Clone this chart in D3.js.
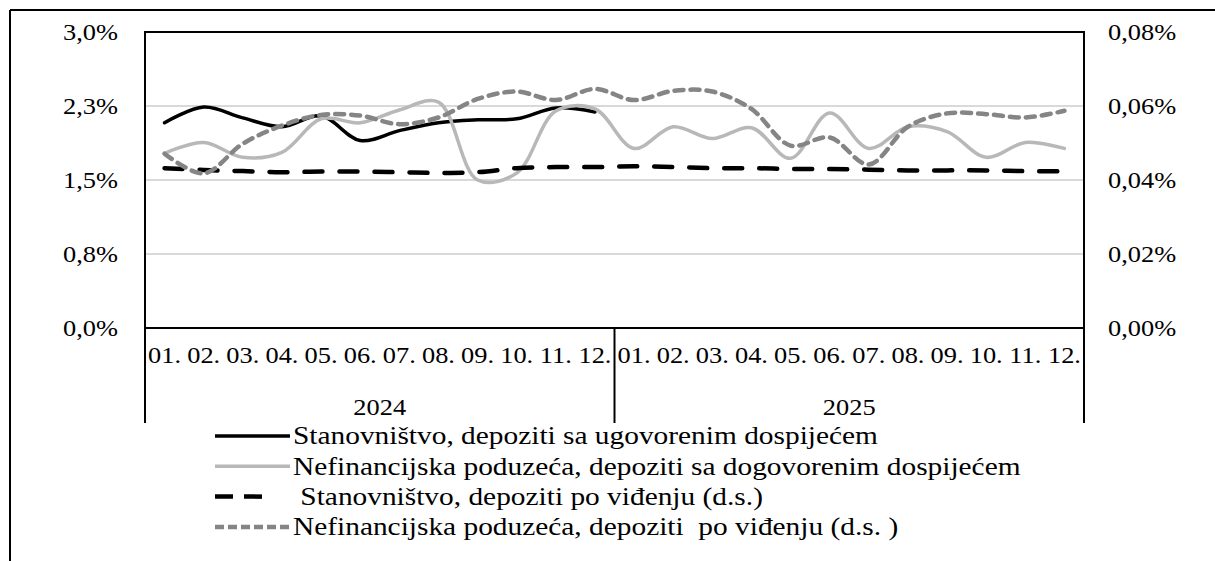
<!DOCTYPE html>
<html>
<head>
<meta charset="utf-8">
<script src="https://cdn.jsdelivr.net/npm/d3@7"></script>
<style>
  body { margin: 0; background: #fff; }
  svg { display: block; font-family: "Liberation Serif", "Times New Roman", serif; }
</style>
</head>
<body>
<svg id="chart" width="1215" height="561"></svg>
<script>
// kamatne stope na depozite, 2024-2025
var years = ["2024", "2025"];
var months = ["01.", "02.", "03.", "04.", "05.", "06.", "07.", "08.", "09.", "10.", "11.", "12."];
var categories = [];
years.forEach(function (y) { months.forEach(function (m) { categories.push(y + "|" + m); }); });

var leftTicks = [0, 0.75, 1.5, 2.25, 3.0];
var leftTickLabels = ["0,0%", "0,8%", "1,5%", "2,3%", "3,0%"];
var rightTicks = [0, 0.02, 0.04, 0.06, 0.08];
var rightTickLabels = ["0,00%", "0,02%", "0,04%", "0,06%", "0,08%"];

// lijeva os (%)
var stanUgovoreni = [2.08, 2.24, 2.13, 2.04, 2.15, 1.90, 2.00, 2.08, 2.11, 2.12, 2.23, 2.19];
var nefinDogovoreni = [1.77, 1.88, 1.73, 1.78, 2.12, 2.08, 2.21, 2.29, 1.50, 1.57, 2.20, 2.22,
                       1.82, 2.04, 1.92, 2.03, 1.72, 2.18, 1.82, 2.04, 1.99, 1.73, 1.88, 1.82];
// desna os (%)
var stanVidjenje = [0.0432, 0.0427, 0.0424, 0.0421, 0.0423, 0.0423, 0.0421, 0.0419, 0.0421, 0.0432, 0.0435, 0.0435,
                    0.0437, 0.0435, 0.0432, 0.0432, 0.0430, 0.0430, 0.0428, 0.0426, 0.0426, 0.0426, 0.0424, 0.0424];
var nefinVidjenje = [0.0471, 0.0418, 0.0498, 0.0547, 0.0576, 0.0574, 0.0551, 0.0569, 0.0619, 0.0639, 0.0616, 0.0646,
                     0.0616, 0.0641, 0.0639, 0.0592, 0.0493, 0.0515, 0.0442, 0.0544, 0.0580, 0.0578, 0.0569, 0.0587];

var legendLabels = [
  "Stanovništvo, depoziti sa ugovorenim dospijećem",
  "Nefinancijska poduzeća, depoziti sa dogovorenim dospijećem",
  " Stanovništvo, depoziti po viđenju (d.s.)",
  "Nefinancijska poduzeća, depoziti  po viđenju (d.s. )"
];

var svg = d3.select("#chart");
var plot = { left: 145, right: 1084, top: 32, bottom: 328 };
var textStretch = 1.1; // glyphs in the original are a bit wider than normal
var legendStretch = 1.13;

var x = d3.scaleBand().domain(categories).range([plot.left, plot.right]).padding(0);
var xYear = d3.scaleBand().domain(years).range([plot.left, plot.right]).padding(0);
var yL = d3.scaleLinear().domain([0, 3.0]).range([plot.bottom, plot.top]);
var yR = d3.scaleLinear().domain([0, 0.08]).range([plot.bottom, plot.top]);

function stretch(sel, k) {
  sel.each(function () {
    var t = d3.select(this);
    var tx = +t.attr("x") || 0, ty = +t.attr("y") || 0;
    t.attr("transform", "translate(" + tx + "," + ty + ") scale(" + k + ",1) translate(" + (-tx) + "," + (-ty) + ")");
  });
}

// outer frame (only top and left edge visible)
svg.append("line").attr("x1", 10).attr("x2", 1215).attr("y1", 10).attr("y2", 10)
  .attr("stroke", "#000").attr("stroke-width", 2);
svg.append("line").attr("x1", 10).attr("x2", 10).attr("y1", 10).attr("y2", 561)
  .attr("stroke", "#000").attr("stroke-width", 2);

// gridlines
svg.append("g").selectAll("line")
  .data(leftTicks.filter(function (d) { return d > 0 && d < 3; }))
  .enter().append("line")
    .attr("x1", plot.left).attr("x2", plot.right)
    .attr("y1", function (d) { return yL(d); }).attr("y2", function (d) { return yL(d); })
    .attr("stroke", "#d9d9d9").attr("stroke-width", 2);

function cleanAxis(g) {
  g.attr("font-family", null).attr("font-size", null);
  g.select(".domain").remove();
  g.selectAll("text").attr("font-size", 24).attr("fill", "#000");
}

// left axis
svg.append("g")
  .attr("transform", "translate(" + (plot.left - 27) + ",0)")
  .call(d3.axisLeft(yL).tickValues(leftTicks).tickSize(0)
    .tickFormat(function (d, i) { return leftTickLabels[i]; }))
  .call(cleanAxis)
  .selectAll("text").attr("x", 0).attr("dy", "0.32em");

// right axis
svg.append("g")
  .attr("transform", "translate(" + (plot.right + 24) + ",0)")
  .call(d3.axisRight(yR).tickValues(rightTicks).tickSize(0)
    .tickFormat(function (d, i) { return rightTickLabels[i]; }))
  .call(cleanAxis)
  .selectAll("text").attr("x", 0).attr("dy", "0.32em");

// month labels
svg.append("g")
  .attr("transform", "translate(0," + plot.bottom + ")")
  .call(d3.axisBottom(x).tickSize(0)
    .tickFormat(function (d) { return d.split("|")[1]; }))
  .call(cleanAxis)
  .selectAll("text").attr("y", 27).attr("dy", "0.32em");

// year labels
svg.append("g").selectAll("text")
  .data(years).enter().append("text")
    .attr("x", function (d) { return xYear(d) + xYear.bandwidth() / 2; })
    .attr("y", 407).attr("dy", "0.32em")
    .attr("text-anchor", "middle").attr("font-size", 24)
    .text(function (d) { return d; });

// category axis frame
var frame = svg.append("g").attr("stroke", "#000").attr("stroke-width", 2).attr("fill", "none");
frame.append("rect")
  .attr("x", plot.left).attr("y", plot.top)
  .attr("width", plot.right - plot.left).attr("height", plot.bottom - plot.top);
frame.selectAll(".sep")
  .data(years.concat(["end"])).enter().append("line")
    .attr("x1", function (d) { return d === "end" ? plot.right : xYear(d); })
    .attr("x2", function (d) { return d === "end" ? plot.right : xYear(d); })
    .attr("y1", plot.bottom).attr("y2", 423);

stretch(svg.selectAll("text"), textStretch);

// series
var series = [
  { values: stanUgovoreni, y: yL, color: "#000000", width: 3.5, dash: null },
  { values: nefinDogovoreni, y: yL, color: "#b8b8b8", width: 3.5, dash: null },
  { values: stanVidjenje, y: yR, color: "#000000", width: 4.5, dash: "18,17" },
  { values: nefinVidjenje, y: yR, color: "#858585", width: 4.5, dash: "9,7" }
];

svg.append("g").selectAll("path")
  .data(series).enter().append("path")
    .attr("fill", "none")
    .attr("stroke", function (d) { return d.color; })
    .attr("stroke-width", function (d) { return d.width; })
    .attr("stroke-dasharray", function (d) { return d.dash; })
    .attr("stroke-linecap", "round")
    .attr("d", function (s) {
      return d3.line()
        .x(function (v, i) { return x(categories[i]) + x.bandwidth() / 2; })
        .y(function (v) { return s.y(v); })
        .curve(d3.curveCatmullRom.alpha(0.5))(s.values);
    });

// legend
var legend = svg.append("g").selectAll("g")
  .data(series).enter().append("g")
    .attr("transform", function (d, i) { return "translate(0," + (436 + i * 30.3) + ")"; });
legend.append("line")
  .attr("x1", 215).attr("x2", function (d, i) { return i === 2 ? 262 : 290; })
  .attr("y1", 0).attr("y2", 0)
  .attr("stroke", function (d) { return d.color; })
  .attr("stroke-width", function (d) { return d.width; })
  .attr("stroke-dasharray", function (d, i) { return i === 2 ? "18,11" : (i === 3 ? "9,4" : null); });
var legendText = legend.append("text")
  .attr("x", 293).attr("y", 0).attr("dy", "0.32em")
  .attr("font-size", 26)
  .style("white-space", "pre")
  .text(function (d, i) { return legendLabels[i]; });
stretch(legendText, legendStretch);
</script>
</body>
</html>
